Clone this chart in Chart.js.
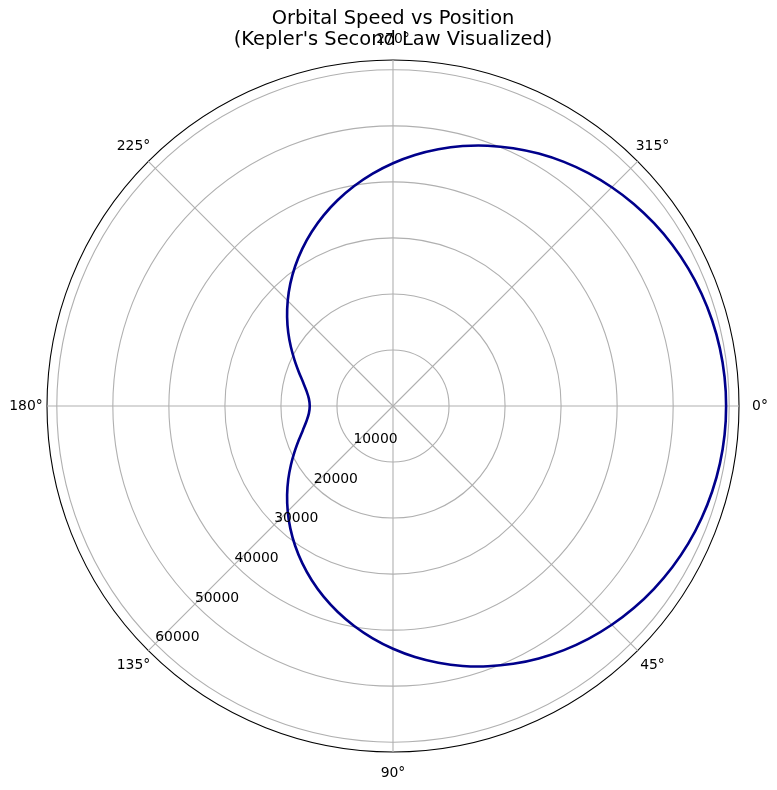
<!DOCTYPE html>
<html>
<head>
<meta charset="utf-8">
<title>Orbital Speed vs Position</title>
<script src="https://cdn.jsdelivr.net/npm/chart.js@4.4.1/dist/chart.umd.min.js"></script>
<style>
    html, body { margin: 0; padding: 0; background: #fff; }
    #container { position: relative; width: 777px; height: 790px; }
</style>
</head>
<body>
<div id="container"><canvas id="chart"></canvas></div>
<script>
// -------------------------------------------------------------------------------------------------------------------------------
// Declarations - Data
// -------------------------------------------------------------------------------------------------------------------------------

// Position around the orbit (degrees, 0° = perihelion, clockwise on screen), every 5°.
const ANGLES = [
    0, 5, 10, 15, 20, 25, 30, 35, 40, 45, 50, 55, 60, 65, 70, 75, 80, 85,
    90, 95, 100, 105, 110, 115, 120, 125, 130, 135, 140, 145, 150, 155, 160, 165, 170, 175,
    180, 185, 190, 195, 200, 205, 210, 215, 220, 225, 230, 235, 240, 245, 250, 255, 260, 265,
    270, 275, 280, 285, 290, 295, 300, 305, 310, 315, 320, 325, 330, 335, 340, 345, 350, 355
];

// Orbital speed at each position.
const SPEED = [
    59450, 59400, 59240, 58970, 58600, 58130, 57550, 56870, 56100, 55220, 54250, 53180, 52020, 50770, 49440, 48030, 46530, 44970,
    43330, 41630, 39870, 38060, 36210, 34310, 32390, 30450, 28510, 26570, 24670, 22820, 21040, 19390, 17910, 16650, 15690, 15070,
    14860, 15070, 15690, 16650, 17910, 19390, 21040, 22820, 24670, 26570, 28510, 30450, 32390, 34310, 36210, 38060, 39870, 41630,
    43330, 44970, 46530, 48030, 49440, 50770, 52020, 53180, 54250, 55220, 56100, 56870, 57550, 58130, 58600, 58970, 59240, 59400
];

// Angular tick labels and radial tick values.
const THETA_TICKS = [0, 45, 90, 135, 180, 225, 270, 315];
const THETA_LABELS = ['0°', '45°', '90°', '135°', '180°', '225°', '270°', '315°'];
const R_TICKS = [10000, 20000, 30000, 40000, 50000, 60000];
const R_MAX = 61750;
const R_LABEL_ANGLE = 135;

// -------------------------------------------------------------------------------------------------------------------------------
// Declarations - Plugins
// -------------------------------------------------------------------------------------------------------------------------------

// Matplotlib puts theta labels centred just outside the rim and r labels along one spoke.
const polarLabels = {
    id: 'polarLabels',
    afterDraw(chart) {
        const scale = chart.scales.r;
        const ctx = chart.ctx;
        ctx.save();
        ctx.fillStyle = '#000';
        ctx.font = '13.9px "DejaVu Sans"';

        ctx.textAlign = 'center';
        ctx.textBaseline = 'middle';
        const rim = scale.getDistanceFromCenterForValue(R_MAX) + 21;
        THETA_TICKS.forEach((deg, i) => {
            const p = scale.getPointPosition(ANGLES.indexOf(deg), rim);
            ctx.fillText(THETA_LABELS[i], p.x, p.y);
        });

        ctx.textAlign = 'left';
        ctx.textBaseline = 'alphabetic';
        const spoke = ANGLES.indexOf(R_LABEL_ANGLE);
        R_TICKS.forEach(v => {
            const p = scale.getPointPosition(spoke, scale.getDistanceFromCenterForValue(v));
            ctx.fillText(String(v), p.x, p.y - 2.5);
        });
        ctx.restore();
    }
};

// -------------------------------------------------------------------------------------------------------------------------------
// Chart
// -------------------------------------------------------------------------------------------------------------------------------

Chart.defaults.animation = false;
Chart.defaults.font.family = '"DejaVu Sans", sans-serif';
Chart.defaults.color = '#000';

new Chart(document.getElementById('chart'), {
    type: 'radar',
    data: {
        labels: ANGLES.map(a => a + '°'),
        datasets: [{
            data: SPEED,
            borderColor: '#00008b',
            backgroundColor: 'rgba(0,0,0,0)',
            borderWidth: 2.6,
            fill: false,
            tension: 0.33,
            pointRadius: 0,
            pointHoverRadius: 0
        }]
    },
    options: {
        responsive: true,
        maintainAspectRatio: false,
        events: [],
        layout: { padding: { left: 46, right: 37, top: 0, bottom: 37 } },
        plugins: {
            legend: { display: false },
            tooltip: { enabled: false },
            title: {
                display: true,
                text: ['Orbital Speed vs Position', "(Kepler's Second Law Visualized)"],
                color: '#000',
                font: { size: 19.44, weight: 'normal', lineHeight: 1.07 },
                padding: { top: 8.4, bottom: 9 }
            }
        },
        scales: {
            r: {
                min: 0,
                max: R_MAX,
                startAngle: 90,
                afterBuildTicks: scale => {
                    scale.ticks = [0].concat(R_TICKS, [R_MAX]).map(v => ({ value: v }));
                },
                ticks: { display: false },
                pointLabels: { display: false },
                grid: {
                    circular: true,
                    color: ctx => (ctx.tick && ctx.tick.value >= R_MAX ? '#000' : '#b0b0b0'),
                    lineWidth: 1.1
                },
                angleLines: {
                    color: '#b0b0b0',
                    lineWidth: ctx => (THETA_TICKS.includes(ANGLES[ctx.index]) ? 1.1 : 0)
                }
            }
        }
    },
    plugins: [polarLabels]
});
</script>
</body>
</html>
